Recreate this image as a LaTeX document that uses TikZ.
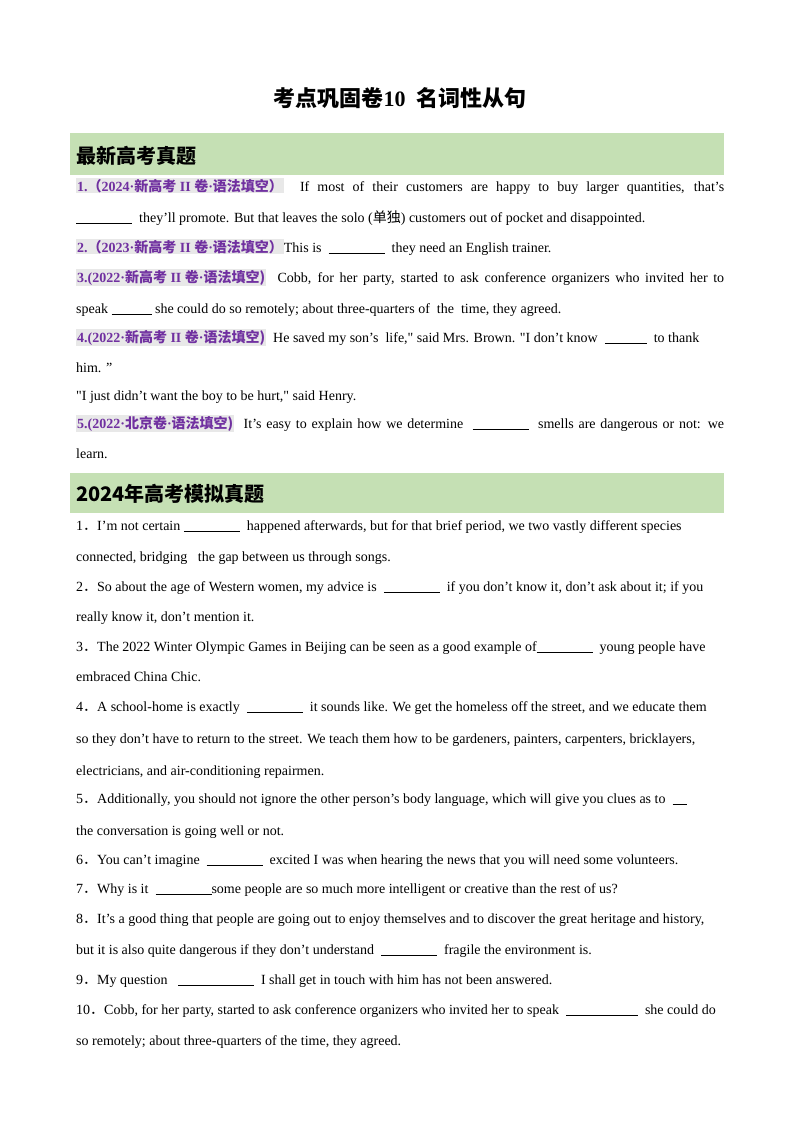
\documentclass[tikz,border=0pt]{standalone}
\usepackage{fontspec}
\setmainfont{Liberation Serif}
\newfontfamily\cjk{Noto Sans CJK SC}
\newcommand{\zh}[1]{{\cjk #1}}
\newcommand{\dq}{\textquotedbl}
\definecolor{band}{HTML}{C5E0B4}
\definecolor{lab}{HTML}{7030A0}
\newcommand{\lab}[1]{{\setlength{\fboxsep}{1pt}\colorbox{gray!18}{\bfseries\color{lab}#1}}}
\newcommand{\blank}[1]{\rule[-2pt]{#1pt}{0.8pt}}
\begin{document}
\begin{tikzpicture}[x=1pt,y=-1pt,
  ln/.style={anchor=base west,inner sep=0pt,font=\fontsize{14}{16}\selectfont},
  hd/.style={anchor=west,inner sep=0pt,font=\fontsize{20}{24}\selectfont\cjk\bfseries}]
\useasboundingbox[fill=white] (0,0) rectangle (800,1132);
\node[anchor=center,font=\fontsize{22}{26}\selectfont\bfseries] (title) at (400,98) {\zh{考点巩固卷}10\ \ \zh{名词性从句}};
\fill[band] (70,133) rectangle (724,175);
\node[hd] (h1) at (76,156) {最新高考真题};
\node[ln] (a1) at (76,191) {\makebox[648pt][s]{\lab{1.\zh{（}2024·\zh{新高考} II \zh{卷}·\zh{语法填空）}} \ If most of their customers are happy to buy larger quantities, that’s}};
\node[ln] (a2) at (76,222) {\blank{56}\ \ they’ll promote. But that leaves the solo (\zh{单独}) customers out of pocket and disappointed.};
\node[ln] (a3) at (76,252) {\lab{2.\zh{（}2023·\zh{新高考} II \zh{卷}·\zh{语法填空）}}This is \ \blank{56}\ \ they need an English trainer.};
\node[ln] (a4) at (76,282) {\makebox[648pt][s]{\lab{3.(2022·\zh{新高考} II \zh{卷}·\zh{语法填空)}} \ Cobb, for her party, started to ask conference organizers who invited her to}};
\node[ln] (a5) at (76,313) {speak \blank{40} she could do so remotely; about three-quarters of \ the \ time, they agreed.};
\node[ln] (a6) at (76,342) {\lab{4.(2022·\zh{新高考} II \zh{卷}·\zh{语法填空)}} \ He saved my son’s \ life,\dq{} said Mrs. Brown. \dq{}I don't know \ \blank{42}\ \ to thank};
\node[ln] (a7) at (76,372) {him. ”};
\node[ln] (a8) at (76,400) {\dq{}I just didn't want the boy to be hurt,\dq{} said Henry.};
\node[ln] (a9) at (76,428) {\makebox[648pt][s]{\lab{5.(2022·\zh{北京卷}·\zh{语法填空)}} \ It’s easy to explain how we determine \ \blank{56}\ \ smells are dangerous or not: we}};
\node[ln] (a10) at (76,458) {learn.};
\fill[band] (70,473) rectangle (724,513);
\node[hd] (h2) at (76,494) {2024\zh{年高考模拟真题}};
\node[ln] (b1) at (76,530) {1\zh{．}I’m not certain \blank{56}\ \ happened afterwards, but for that brief period, we two vastly different species};
\node[ln] (b2) at (76,561) {connected, bridging \ \ the gap between us through songs.};
\node[ln] (b3) at (76,591) {2\zh{．}So about the age of Western women, my advice is \ \blank{56}\ \ if you don’t know it, don’t ask about it; if you};
\node[ln] (b4) at (76,621) {really know it, don’t mention it.};
\node[ln] (b5) at (76,651) {3\zh{．}The 2022 Winter Olympic Games in Beijing can be seen as a good example of\blank{56}\ \ young people have};
\node[ln] (b6) at (76,681) {embraced China Chic.};
\node[ln] (b7) at (76,711) {4\zh{．}A school-home is exactly \ \blank{56}\ \ it sounds like. We get the homeless off the street, and we educate them};
\node[ln] (b8) at (76,743) {so they don’t have to return to the street. We teach them how to be gardeners, painters, carpenters, bricklayers,};
\node[ln] (b9) at (76,775) {electricians, and air-conditioning repairmen.};
\node[ln] (b10) at (76,803) {5\zh{．}Additionally, you should not ignore the other person’s body language, which will give you clues as to \ \blank{14}};
\node[ln] (b11) at (76,835) {the conversation is going well or not.};
\node[ln] (b12) at (76,864) {6\zh{．}You can’t imagine \ \blank{56}\ \ excited I was when hearing the news that you will need some volunteers.};
\node[ln] (b13) at (76,893) {7\zh{．}Why is it \ \blank{56}some people are so much more intelligent or creative than the rest of us?};
\node[ln] (b14) at (76,923) {8\zh{．}It’s a good thing that people are going out to enjoy themselves and to discover the great heritage and history,};
\node[ln] (b15) at (76,954) {but it is also quite dangerous if they don’t understand \ \blank{56}\ \ fragile the environment is.};
\node[ln] (b16) at (76,984) {9\zh{．}My question \ \ \blank{76}\ \ I shall get in touch with him has not been answered.};
\node[ln] (b17) at (76,1014) {10\zh{．}Cobb, for her party, started to ask conference organizers who invited her to speak \ \blank{72}\ \ she could do};
\node[ln] (b18) at (76,1045) {so remotely; about three-quarters of the time, they agreed.};
\end{tikzpicture}
\end{document}
